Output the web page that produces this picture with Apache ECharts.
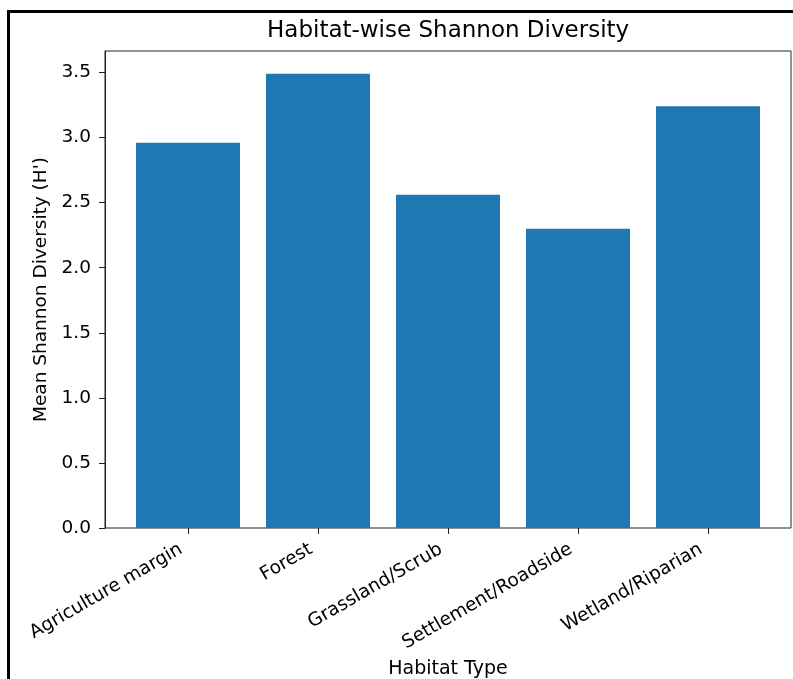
<!DOCTYPE html>
<html>
<head>
<meta charset="utf-8">
<style>
  html, body { margin: 0; padding: 0; background: #fff; }
  #main { width: 793px; height: 679px; }
</style>
<script src="https://cdn.jsdelivr.net/npm/echarts@6/dist/echarts.min.js"></script>
</head>
<body>
<div id="main"></div>
<script>
// habitat categories and mean Shannon diversity
var habitats = ['Agriculture margin', 'Forest', 'Grassland/Scrub', 'Settlement/Roadside', 'Wetland/Riparian'];
var meanH = [2.96, 3.49, 2.56, 2.30, 3.24];
var yTicks = [0, 0.5, 1.0, 1.5, 2.0, 2.5, 3.0, 3.5];

var font = 'DejaVu Sans';
var yMax = 3.665;

var myChart = echarts.init(document.getElementById('main'));
myChart.setOption({
  animation: false,
  backgroundColor: '#fff',
  title: {
    text: 'Habitat-wise Shannon Diversity',
    left: 267,
    top: 20,
    padding: 0,
    textStyle: { fontFamily: font, fontSize: 23, fontWeight: 'normal', color: '#000' }
  },
  graphic: [{
    // outer black frame
    type: 'rect',
    shape: { x: 8.5, y: 11.5, width: 800, height: 700 },
    style: { fill: 'none', stroke: '#000', lineWidth: 3 },
    silent: true
  }],
  grid: [
    // frame grid: spines + y axis
    { left: 105, right: 2, top: 51, bottom: 151, outerBoundsMode: 'none', show: true, borderColor: '#222', borderWidth: 1, backgroundColor: 'transparent' },
    // bars grid
    { left: 123, right: 20, top: 51, bottom: 151, outerBoundsMode: 'none' }
  ],
  xAxis: [
    { gridIndex: 0, type: 'value', min: 0, max: 1, show: false },
    {
      gridIndex: 1,
      type: 'category',
      data: habitats,
      axisLine: { show: false },
      axisTick: { show: true, alignWithLabel: true, length: 6, lineStyle: { color: '#222' } },
      axisLabel: {
        rotate: 30,
        interval: 0,
        margin: 16,
        padding: [0, 8, 0, 0],
        fontFamily: font,
        fontSize: 18.5,
        color: '#000'
      },
      name: 'Habitat Type',
      nameLocation: 'middle',
      nameGap: 116,
      nameTextStyle: { fontFamily: font, fontSize: 19, color: '#000' }
    }
  ],
  yAxis: [
    {
      gridIndex: 0,
      type: 'value',
      min: 0,
      max: yMax,
      splitLine: { show: false },
      axisLine: { show: true, lineStyle: { color: '#222' } },
      axisTick: { show: true, length: 6, customValues: yTicks, lineStyle: { color: '#222' } },
      axisLabel: {
        customValues: yTicks,
        margin: 14,
        fontFamily: font,
        fontSize: 18.5,
        color: '#000',
        formatter: function (v) { return v.toFixed(1); }
      },
      name: "Mean Shannon Diversity (H')",
      nameLocation: 'middle',
      nameGap: 54,
      nameTextStyle: { fontFamily: font, fontSize: 18.5, color: '#000' }
    },
    { gridIndex: 1, type: 'value', min: 0, max: yMax, show: false }
  ],
  series: [{
    type: 'bar',
    xAxisIndex: 1,
    yAxisIndex: 1,
    data: meanH,
    barWidth: '80%',
    itemStyle: { color: '#1f77b4' }
  }]
});
</script>
</body>
</html>
